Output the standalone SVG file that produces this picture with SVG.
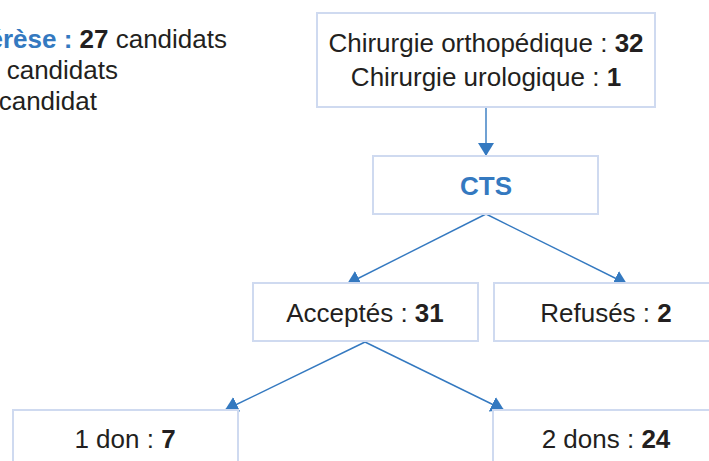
<svg xmlns="http://www.w3.org/2000/svg" width="709" height="461" viewBox="0 0 709 461">
<style>
text{font-family:"Liberation Sans",Arial,Helvetica,sans-serif;font-size:26px;fill:#231f20}
.b{font-weight:bold}
.blue{fill:#3479c0}
.box{fill:#fff;stroke:#cfdaf0;stroke-width:2}
.con{fill:none;stroke:#3479c0;stroke-width:1.4}
</style>
<defs>
<marker id="ah" markerUnits="userSpaceOnUse" markerWidth="14" markerHeight="16" refX="13" refY="8" orient="auto">
<path d="M0,0 L13,8 L0,16 z" fill="#3479c0"/>
</marker>
</defs>
<rect width="709" height="461" fill="#fff"/>
<g id="legend">
<text x="227" y="48" text-anchor="end"><tspan class="b blue">érèse : </tspan><tspan class="b">27</tspan> candidats</text>
<text x="118" y="79" text-anchor="end"> candidats</text>
<text x="97" y="110" text-anchor="end">candidat</text>
</g>
<g id="connectors">
<line class="con" x1="486" y1="107" x2="486" y2="156" marker-end="url(#ah)"/>
<line class="con" x1="486" y1="214" x2="347" y2="284" marker-end="url(#ah)"/>
<line class="con" x1="486" y1="214" x2="627" y2="284" marker-end="url(#ah)"/>
<line class="con" x1="365" y1="342" x2="225" y2="410" marker-end="url(#ah)"/>
<line class="con" x1="365" y1="342" x2="504" y2="410" marker-end="url(#ah)"/>
</g>
<g id="chirurgie">
<rect class="box" x="317" y="13" width="338" height="94"/>
<text x="486" y="52" text-anchor="middle">Chirurgie orthopédique : <tspan class="b">32</tspan></text>
<text x="486" y="86" text-anchor="middle">Chirurgie urologique : <tspan class="b">1</tspan></text>
</g>
<g id="cts">
<rect class="box" x="373" y="156" width="225" height="58"/>
<text class="b blue" x="486" y="195" text-anchor="middle">CTS</text>
</g>
<g id="acceptes">
<rect class="box" x="253" y="283" width="225" height="58"/>
<text x="365" y="322" text-anchor="middle">Acceptés : <tspan class="b">31</tspan></text>
</g>
<g id="refuses">
<rect class="box" x="494" y="283" width="225" height="58"/>
<text x="606" y="322" text-anchor="middle">Refusés : <tspan class="b">2</tspan></text>
</g>
<g id="un-don">
<rect class="box" x="13" y="410" width="225" height="70"/>
<text x="125" y="448" text-anchor="middle">1 don : <tspan class="b">7</tspan></text>
</g>
<g id="deux-dons">
<rect class="box" x="493" y="410" width="225" height="70"/>
<text x="606" y="448" text-anchor="middle">2 dons : <tspan class="b">24</tspan></text>
</g>
</svg>
